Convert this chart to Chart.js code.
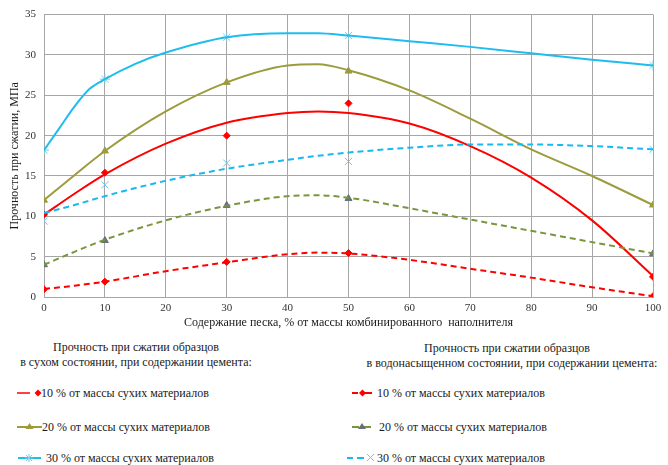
<!DOCTYPE html>
<html><head><meta charset="utf-8">
<script src="https://cdn.jsdelivr.net/npm/chart.js@4"></script>
<style>
body{margin:0;background:#fff;width:668px;height:465px;overflow:hidden;position:relative;font-family:"Liberation Serif","DejaVu Serif",serif;color:#1a1a1a}
#wrap{position:absolute;left:0;top:0;width:668px;height:335px}
.t{position:absolute;font-size:12px;white-space:nowrap;line-height:14px}
.c{transform:translateX(-50%)}
svg{position:absolute;overflow:visible}
</style></head><body>
<div id="wrap"><canvas id="c"></canvas></div>
<div id="leg"></div>
<script>
// Trend curves
const curveX=[0,5,10,20,30,40,45,50,60,70,80,90,100];
const redDryCurve=[10.2,12.8,15.2,19.0,21.6,22.8,23.0,22.8,21.5,18.7,14.8,9.5,2.6];
const oliveDryCurve=[12.0,15.1,18.1,23.0,26.6,28.7,28.85,28.1,25.6,22.1,18.3,15.0,11.4];
const blueDryX=[0,2.5,5,7.5,10,15,20,30,40,45,50,60,70,80,90,100];
const blueDryCurve=[18.2,20.9,23.6,25.8,27.0,28.9,30.3,32.2,32.7,32.7,32.4,31.7,31.0,30.2,29.4,28.7];
const redWetCurve=[1.0,1.4,1.9,3.2,4.3,5.3,5.5,5.4,4.6,3.5,2.4,1.2,0.1];
const greenWetCurve=[4.0,5.6,7.1,9.5,11.3,12.5,12.6,12.3,11.0,9.6,8.2,6.8,5.4];
const blueWetCurve=[10.4,11.4,12.5,14.4,15.9,17.0,17.5,17.9,18.5,18.9,18.9,18.7,18.3];
// Measured points
const markerX=[0,10,30,50,100];
const redDryPts=[10.2,15.4,20.0,24.0,2.5];
const oliveDryPts=[12.0,18.1,26.6,28.0,11.4];
const blueDryPts=[18.2,27.0,32.2,32.4,28.7];
const redWetPts=[0.95,1.9,4.35,5.45,0.1];
const greenWetPts=[4.0,7.0,11.35,12.2,5.35];
const blueWetPts=[9.4,13.9,16.6,16.8,18.3];
// Texts
const yTitle='Прочность при сжатии, МПа';
const xTitle='Содержание песка, % от массы комбинированного  наполнителя';
const leftHeader=['Прочность при сжатии образцов','в сухом состоянии, при содержании цемента:'];
const rightHeader=['Прочность при сжатии образцов','в водонасыщенном  состоянии, при содержании цемента:'];
const seriesLabels=['10 % от массы сухих материалов','20 % от массы сухих материалов','30 % от массы сухих материалов'];

const RED='#ff0000',OLIVE='#9c9b3d',BLUE='#1fbdef',GREEN='#79963d',WBLUE='#1ab8f0';
const TRI_WET='#66707a',STAR='#7ccbdc',XCOL='#66c8ee';

const pts=(xs,ys)=>xs.map((x,i)=>({x,y:ys[i]}));
function curve(ys,color,dash,xs){return {data:pts(xs||curveX,ys),showLine:true,borderColor:color,borderWidth:2,borderDash:dash||[],pointRadius:0,cubicInterpolationMode:'monotone',fill:false};}
function marks(ys,style,color,r){return {data:pts(markerX,ys),showLine:false,pointStyle:style,pointRadius:r,pointBackgroundColor:color,pointBorderColor:color,pointBorderWidth:1};}

const serif='"Liberation Serif","DejaVu Serif",serif';
new Chart(document.getElementById('c'),{
 type:'scatter',
 data:{datasets:[
  curve(redWetCurve,RED,[6,4]),curve(greenWetCurve,GREEN,[6,4]),curve(blueWetCurve,WBLUE,[6,4]),
  curve(redDryCurve,RED),curve(oliveDryCurve,OLIVE),curve(blueDryCurve,BLUE,null,blueDryX),
  marks(redWetPts,'rectRot',RED,3.5),marks(greenWetPts,'triangle',TRI_WET,4),marks(blueWetPts,'crossRot',XCOL,5),
  marks(redDryPts,'rectRot',RED,3.5),marks(oliveDryPts,'triangle',OLIVE,4),marks(blueDryPts,'star',STAR,5)
 ]},
 options:{responsive:true,maintainAspectRatio:false,animation:false,
  layout:{padding:{top:14,right:15,left:0,bottom:0}},
  plugins:{legend:{display:false},tooltip:{enabled:false}},
  scales:{
   x:{type:'linear',min:0,max:100,
      ticks:{stepSize:10,color:'#333',font:{family:serif,size:11},padding:5},
      grid:{color:'#a6a6a6',lineWidth:1,drawTicks:false},border:{color:'#a6a6a6'},
      title:{display:true,text:xTitle,color:'#1a1a1a',font:{family:serif,size:12},padding:{top:0,bottom:5}},
      afterFit:s=>{s.height=38;}},
   y:{min:0,max:35,
      ticks:{stepSize:5,color:'#333',font:{family:serif,size:11},padding:8},
      grid:{color:'#a6a6a6',lineWidth:1,drawTicks:false},border:{color:'#a6a6a6'},
      title:{display:true,text:yTitle,color:'#1a1a1a',font:{family:serif,size:12},padding:{top:8,bottom:0}},
      afterFit:s=>{s.width=44;}}
  }
 }
});

// HTML legend
const leg=document.getElementById('leg');
function txt(s,x,y,center){const d=document.createElement('div');d.className='t'+(center?' c':'');d.textContent=s;d.style.left=x+'px';d.style.top=(y-7)+'px';leg.appendChild(d);}
function sym(x,y,w,inner){const ns='http://www.w3.org/2000/svg';const s=document.createElementNS(ns,'svg');s.setAttribute('width',w);s.setAttribute('height',12);s.style.left=x+'px';s.style.top=(y-6)+'px';s.innerHTML=inner;leg.appendChild(s);}
txt(leftHeader[0],136,347,true);txt(leftHeader[1],136,362,true);
txt(rightHeader[0],507,348,true);txt(rightHeader[1],512,363,true);
const rows=[393,427,458];
sym(17,rows[0],26,`<line x1="0" y1="6" x2="13" y2="6" stroke="${RED}" stroke-width="1.5"/><polygon points="21,2.5 24.5,6 21,9.5 17.5,6" fill="${RED}"/>`);
sym(17,rows[1],26,`<line x1="0" y1="6" x2="25" y2="6" stroke="${OLIVE}" stroke-width="2"/><polygon points="12.5,2 16.5,8 8.5,8" fill="${OLIVE}"/>`);
sym(18,rows[2],24,`<line x1="0" y1="6" x2="23" y2="6" stroke="${BLUE}" stroke-width="2"/><g stroke="${STAR}" stroke-width="1"><line x1="7" y1="6" x2="15" y2="6"/><line x1="11" y1="2" x2="11" y2="10"/><line x1="8" y1="3" x2="14" y2="9"/><line x1="14" y1="3" x2="8" y2="9"/></g>`);
txt(seriesLabels[0],41,rows[0]);txt(seriesLabels[1],42,rows[1]);txt(seriesLabels[2],46,rows[2]);
sym(352,rows[0],22,`<line x1="0" y1="6" x2="6" y2="6" stroke="${RED}" stroke-width="2"/><line x1="13" y1="6" x2="20" y2="6" stroke="${RED}" stroke-width="2"/><polygon points="10.5,2.5 14,6 10.5,9.5 7,6" fill="${RED}"/>`);
sym(352,rows[1],22,`<line x1="0" y1="6" x2="7" y2="6" stroke="${GREEN}" stroke-width="2"/><line x1="12" y1="6" x2="19" y2="6" stroke="${GREEN}" stroke-width="2"/><polygon points="10,2 14,8 6,8" fill="${TRI_WET}"/>`);
sym(347,rows[2],28,`<line x1="0" y1="6" x2="6" y2="6" stroke="${WBLUE}" stroke-width="2"/><line x1="10" y1="6" x2="17" y2="6" stroke="${WBLUE}" stroke-width="2"/><g stroke="${XCOL}" stroke-width="1"><line x1="20" y1="2" x2="27" y2="9"/><line x1="27" y1="2" x2="20" y2="9"/></g>`);
txt(seriesLabels[0],377,rows[0]);txt(seriesLabels[1],379,rows[1]);txt(seriesLabels[2],377,rows[2]);
</script>
</body></html>
